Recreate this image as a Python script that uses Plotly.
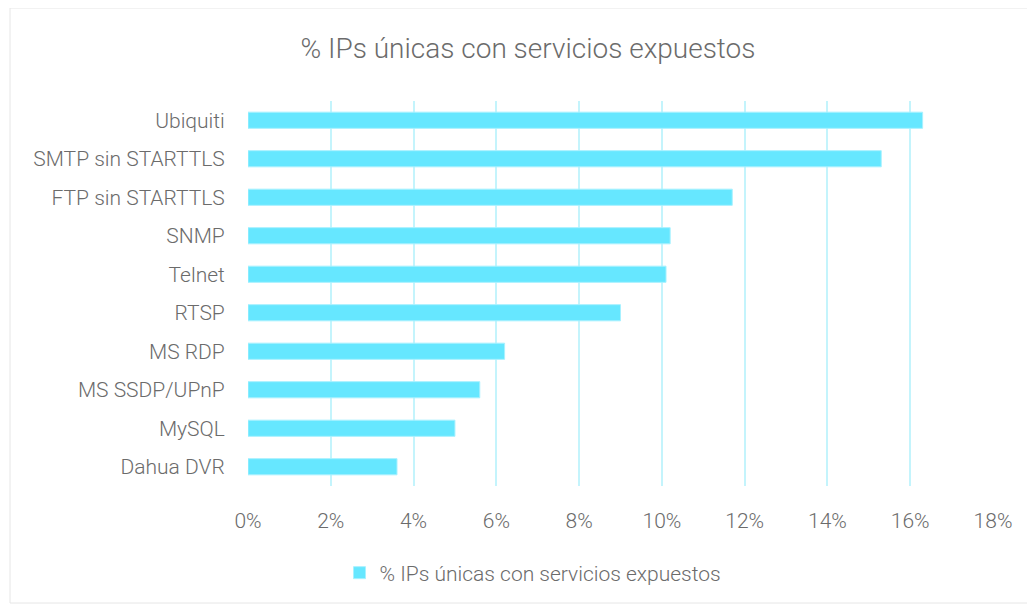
import plotly.graph_objects as go

categories = ["Ubiquiti", "SMTP sin STARTTLS", "FTP sin STARTTLS", "SNMP", "Telnet",
              "RTSP", "MS RDP", "MS SSDP/UPnP", "MySQL", "Dahua DVR"]
values = [0.163, 0.153, 0.117, 0.102, 0.101, 0.090, 0.062, 0.056, 0.050, 0.036]
series_name = "% IPs únicas con servicios expuestos"
tick_vals = [0, 0.02, 0.04, 0.06, 0.08, 0.10, 0.12, 0.14, 0.16, 0.18]

FONT = "Roboto, Lato, sans-serif"
TXT = "#6b6b6b"
W, H = 1027, 597
OFF = 8  # browser body margin

fig = go.Figure()
fig.add_trace(go.Bar(
    y=categories, x=values, orientation="h", name=series_name,
    marker=dict(color="#66e7ff", line=dict(color="#a8f1ff", width=1)),
    width=0.42, showlegend=True,
))

fig.update_layout(
    width=W, height=H,
    paper_bgcolor="white", plot_bgcolor="white",
    margin=dict(l=248 - OFF, r=1035 - 993, t=101 - OFF, b=605 - 486),
    font=dict(family=FONT, color=TXT, size=20),
    title=dict(text=series_name, x=(528 - OFF) / W, xref="container", xanchor="center",
               y=1 - (48 - OFF) / H, yref="container", yanchor="middle",
               font=dict(family=FONT, size=28, color=TXT, weight=300)),
    xaxis=dict(range=[0, 0.18], tickvals=tick_vals, tickformat=".0%",
               showgrid=True, gridcolor="#c4f4fc", gridwidth=2,
               zeroline=False, showline=False,
               ticks="outside", ticklen=16, tickcolor="rgba(0,0,0,0)",
               tickfont=dict(family=FONT, size=21, color=TXT, weight=300)),
    yaxis=dict(autorange="reversed", showgrid=False, zeroline=False, showline=False,
               ticks="outside", ticklen=18, tickcolor="rgba(0,0,0,0)",
               tickfont=dict(family=FONT, size=21, color=TXT, weight=300)),
    legend=dict(orientation="h", x=(533 - OFF) / W, xref="container", xanchor="center",
                y=1 - (573 - OFF) / H, yref="container", yanchor="middle",
                font=dict(family=FONT, size=21, color=TXT, weight=300),
                itemwidth=30),
    shapes=[dict(type="rect", xref="paper", yref="paper",
                 x0=-238 / 745, x1=1 + 40 / 745, y0=-117 / 385, y1=1 + 93 / 385,
                 line=dict(color="#e6e6e6", width=1), layer="below")],
)

fig.write_html("out.html")
